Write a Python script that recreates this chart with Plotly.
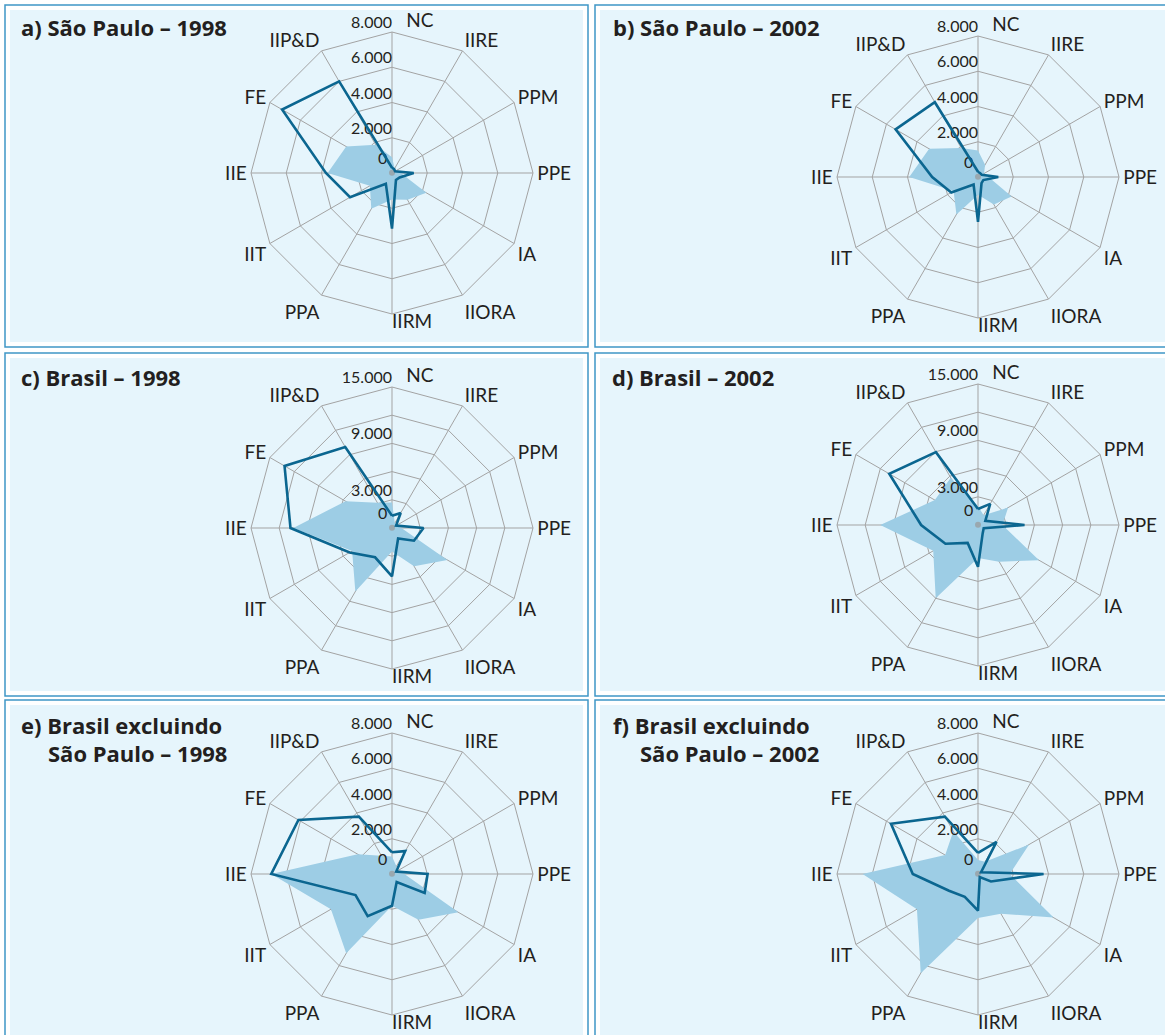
import plotly.graph_objects as go

W, H = 1165, 1035

categories = ["NC", "IIRE", "PPM", "PPE", "IA", "IIORA", "IIRM", "PPA", "IIT", "IIE", "FE", "IIP&D"]
# NC and IIRM are written beside their spoke (not centred on it), as in the original
offset_labels = ["NC", "IIRM"]
offset_text = ["\u2003NC", "IIRM"]
offset_positions = ["top right", "bottom right"]
axis_labels = ["" if c in offset_labels else c for c in categories]

# values in category order above
sp1998_area = [900, 300, 250, 500, 2250, 1750, 1500, 2350, 1450, 3650, 3000, 1850]
sp1998_line = [300, 250, 200, 1230, 500, 450, 3150, 700, 2750, 3750, 7200, 6000]

sp2002_area = [1500, 800, 400, 600, 2200, 1800, 1000, 2450, 1600, 3900, 3200, 1900]
sp2002_line = [300, 250, 250, 1150, 350, 400, 2550, 500, 1750, 2600, 5400, 4900]

br1998_area = [2700, 600, 500, 1000, 6800, 4700, 2500, 7800, 4900, 10500, 5700, 3100]
br1998_line = [1300, 1850, 500, 3350, 2700, 1300, 5150, 3600, 5200, 10800, 13200, 9950]

br2002_area = [2000, 1200, 3700, 2600, 7500, 4500, 3500, 9000, 5500, 10400, 5300, 5800]
br2002_line = [1700, 2600, 900, 4950, 700, 1000, 4450, 2200, 4000, 6050, 10900, 8950]

exsp1998_area = [1000, 500, 300, 700, 4350, 3000, 1800, 5200, 4000, 6850, 2250, 1200]
exsp1998_line = [1230, 1500, 280, 2020, 2140, 530, 1800, 2760, 2390, 6850, 6130, 3760]

exsp2002_area = [800, 800, 3350, 1800, 4950, 2600, 2500, 6500, 4000, 6550, 2150, 2800]
exsp2002_line = [1200, 2100, 200, 3720, 850, 200, 2080, 1500, 1900, 3700, 5700, 3760]

sp_tickvals = [0, 2000, 4000, 6000, 8000]
sp_ticktext = ["0", "2.000", "4.000", "6.000", "8.000"]
br_tickvals = [0, 3000, 6000, 9000, 12000, 15000]
br_ticktext = ["0", "3.000", "", "9.000", "", "15.000"]

titles = [
    ["a) São Paulo – 1998"],
    ["b) São Paulo – 2002"],
    ["c) Brasil – 1998"],
    ["d) Brasil – 2002"],
    ["e) Brasil excluindo", "São Paulo – 1998"],
    ["f) Brasil excluindo", "São Paulo – 2002"],
]

PANEL_BG = "#e6f5fc"
BORDER = "#3f97c6"
AREA = "#9dcde5"
LINE = "#0b6690"
GRID = "#a3a3a3"
TEXT = "#231f20"
FONT = "Lato"
TITLE_FONT = "Open Sans"

panels = [
    dict(area=sp1998_area, line=sp1998_line, rmax=8000, tv=sp_tickvals, tt=sp_ticktext,
         cx=392, cy=173, box=(5, 5, 588, 347), tpos=[(19, 27)]),
    dict(area=sp2002_area, line=sp2002_line, rmax=8000, tv=sp_tickvals, tt=sp_ticktext,
         cx=978, cy=177, box=(595, 5, 1175, 347), tpos=[(611, 27)]),
    dict(area=br1998_area, line=br1998_line, rmax=15000, tv=br_tickvals, tt=br_ticktext,
         cx=392, cy=528, box=(5, 353, 588, 696), tpos=[(19, 377)]),
    dict(area=br2002_area, line=br2002_line, rmax=15000, tv=br_tickvals, tt=br_ticktext,
         cx=978, cy=525, box=(595, 353, 1175, 696), tpos=[(610, 377)]),
    dict(area=exsp1998_area, line=exsp1998_line, rmax=8000, tv=sp_tickvals, tt=sp_ticktext,
         cx=392, cy=874, box=(5, 700, 588, 1045), tpos=[(19, 725), (46, 753)]),
    dict(area=exsp2002_area, line=exsp2002_line, rmax=8000, tv=sp_tickvals, tt=sp_ticktext,
         cx=978, cy=874, box=(595, 700, 1175, 1045), tpos=[(611, 725), (638, 753)]),
]

R = 141
fig = go.Figure()
shapes = []
annotations = []
layout_polars = {}

for i, p in enumerate(panels):
    key = "polar" if i == 0 else f"polar{i+1}"
    theta = categories + [categories[0]]
    # filled series
    fig.add_trace(go.Scatterpolar(
        r=p["area"] + [p["area"][0]], theta=theta, subplot=key,
        mode="lines", fill="toself", fillcolor=AREA,
        line=dict(width=0, color=AREA), hoverinfo="skip", showlegend=False))
    # radial scale labels along the NC spoke (above the fill, below the line);
    # plotly hides points exactly at the pole, so the origin label sits a hair off it
    label_r = [max(v, p["rmax"] * 1e-3) for v in p["tv"]]
    fig.add_trace(go.Scatterpolar(
        r=label_r, theta=[categories[0]] * len(p["tv"]), subplot=key,
        mode="text+markers", text=p["tt"], textposition="top left", cliponaxis=False,
        marker=dict(size=[6 if v == 0 else 0 for v in p["tv"]], color="#999999",
                    line=dict(width=0)),
        textfont=dict(family=FONT, size=16, color=TEXT),
        hoverinfo="skip", showlegend=False))
    # category labels written beside their spoke
    fig.add_trace(go.Scatterpolar(
        r=[p["rmax"]] * len(offset_labels), theta=offset_labels, subplot=key,
        mode="text", text=offset_text, textposition=offset_positions, cliponaxis=False,
        textfont=dict(family=FONT, size=19, color=TEXT),
        hoverinfo="skip", showlegend=False))
    # line series
    fig.add_trace(go.Scatterpolar(
        r=p["line"] + [p["line"][0]], theta=theta, subplot=key,
        mode="lines", line=dict(width=2.6, color=LINE),
        hoverinfo="skip", showlegend=False))

    cx, cy = p["cx"], p["cy"]
    layout_polars[key] = dict(
        domain=dict(x=[(cx - R) / W, (cx + R) / W], y=[1 - (cy + R) / H, 1 - (cy - R) / H]),
        bgcolor=PANEL_BG,
        gridshape="linear",
        angularaxis=dict(
            type="category", categoryorder="array", categoryarray=categories,
            tickmode="array", tickvals=categories, ticktext=axis_labels,
            direction="clockwise", rotation=90,
            showgrid=True, gridcolor=GRID, gridwidth=1,
            showline=True, linecolor=GRID, linewidth=1,
            ticks="", layer="below traces",
            tickfont=dict(family=FONT, size=19, color=TEXT),
        ),
        radialaxis=dict(
            range=[0, p["rmax"]], tickmode="array", tickvals=p["tv"],
            showticklabels=False, angle=90,
            showline=False, ticks="", showgrid=True, gridcolor=GRID, gridwidth=1,
            layer="below traces",
        ),
    )

    x0, y0, x1, y1 = p["box"]
    shapes.append(dict(type="rect", xref="paper", yref="paper", layer="below",
                       x0=x0 / W, x1=x1 / W, y0=1 - y0 / H, y1=1 - y1 / H,
                       line=dict(color=BORDER, width=1.5), fillcolor="white"))
    shapes.append(dict(type="rect", xref="paper", yref="paper", layer="below",
                       x0=(x0 + 5) / W, x1=(x1 - 5) / W, y0=1 - (y0 + 5) / H, y1=1 - (y1 - 5) / H,
                       line=dict(width=0), fillcolor=PANEL_BG))

    for txt, (tx, ty) in zip(titles[i], p["tpos"]):
        annotations.append(dict(text=f"<b>{txt}</b>", x=tx / W, y=1 - ty / H,
                                xref="paper", yref="paper", xanchor="left", yanchor="middle",
                                showarrow=False, font=dict(family=TITLE_FONT, size=22, color=TEXT)))

fig.update_layout(
    width=W, height=H, margin=dict(l=0, r=0, t=0, b=0),
    paper_bgcolor="white", plot_bgcolor="white",
    shapes=shapes, annotations=annotations, showlegend=False,
    **layout_polars,
)

fig.write_html("out.html", config={"displayModeBar": False},
               post_script="document.body.style.margin='0px';")
